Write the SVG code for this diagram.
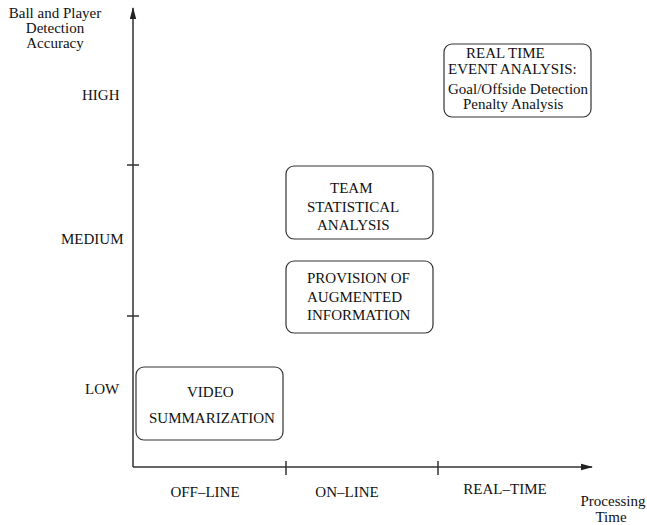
<svg xmlns="http://www.w3.org/2000/svg" width="647" height="525" viewBox="0 0 647 525">
  <style>
    text { font-family: "Liberation Serif", "Times New Roman", serif; font-size: 15px; fill: #111; }
    .mid { text-anchor: middle; }
    .axis { stroke: #333; stroke-width: 1.5; fill: none; }
    .box { fill: #fff; stroke: #333; stroke-width: 1.2; }
  </style>
  <defs>
    <marker id="arrow" viewBox="0 0 12 8" refX="11" refY="4" markerWidth="12" markerHeight="8" markerUnits="userSpaceOnUse" orient="auto">
      <path d="M0,0.8 L12,4 L0,7.2 Z" fill="#222"/>
    </marker>
  </defs>

  <!-- axes, ticks and arrowheads -->
  <g id="connectors">
    <path class="axis" d="M133,467 L133,8" marker-end="url(#arrow)"/>
    <path class="axis" d="M133,467 L592,467" marker-end="url(#arrow)"/>
    <path class="axis" d="M127,165 L139,165 M127,316 L139,316 M286,461 L286,475 M438,461 L438,475"/>
  </g>

  <!-- axis titles and level labels -->
  <g id="y-title">
    <text class="mid" x="55" y="18">Ball and Player</text>
    <text class="mid" x="55" y="33">Detection</text>
    <text class="mid" x="55" y="48">Accuracy</text>
  </g>
  <g id="y-levels">
    <text x="82" y="100">HIGH</text>
    <text x="61" y="244">MEDIUM</text>
    <text x="85" y="394">LOW</text>
  </g>
  <g id="x-levels">
    <text class="mid" x="205" y="497">OFF–LINE</text>
    <text class="mid" x="347" y="497">ON–LINE</text>
    <text class="mid" x="505" y="494">REAL–TIME</text>
  </g>
  <g id="x-title">
    <text class="mid" x="613" y="506">Processing</text>
    <text class="mid" x="611" y="522">Time</text>
  </g>

  <!-- application boxes -->
  <g id="real-time-event-analysis">
    <rect class="box" x="444" y="44" width="147" height="73" rx="8"/>
    <text x="466" y="58">REAL TIME</text>
    <text x="448" y="74">EVENT ANALYSIS:</text>
    <text x="448" y="94">Goal/Offside Detection</text>
    <text x="463" y="109">Penalty Analysis</text>
  </g>
  <g id="team-statistical-analysis">
    <rect class="box" x="286" y="166" width="147" height="73" rx="8"/>
    <text x="330" y="193">TEAM</text>
    <text x="307" y="212">STATISTICAL</text>
    <text x="317" y="230">ANALYSIS</text>
  </g>
  <g id="augmented-information">
    <rect class="box" x="286" y="261" width="147" height="72" rx="8"/>
    <text x="307" y="283">PROVISION OF</text>
    <text x="307" y="302">AUGMENTED</text>
    <text x="307" y="320">INFORMATION</text>
  </g>
  <g id="video-summarization">
    <rect class="box" x="136" y="367" width="147" height="73" rx="8"/>
    <text x="187" y="397">VIDEO</text>
    <text x="149" y="423">SUMMARIZATION</text>
  </g>
</svg>
